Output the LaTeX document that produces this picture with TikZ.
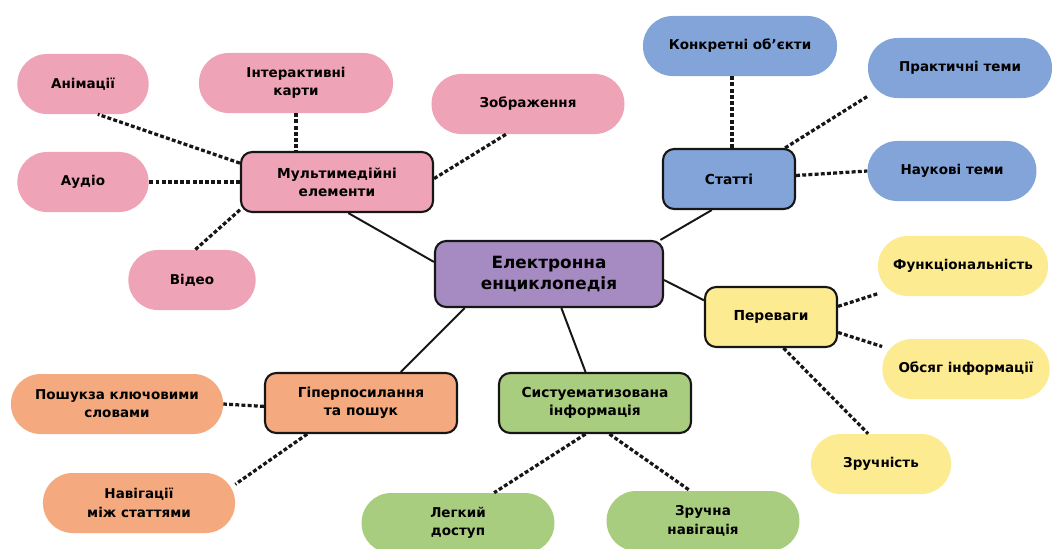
\documentclass[tikz,border=0pt]{standalone}
\usepackage{fontspec}
\setmainfont{DejaVu Sans}
\usepackage{tikz}
\usetikzlibrary{positioning}
\definecolor{inkColor}{RGB}{22, 22, 22}
\definecolor{rootFill}{RGB}{165, 139, 193}
\definecolor{mediaFill}{RGB}{239, 163, 182}
\definecolor{articleFill}{RGB}{130, 164, 216}
\definecolor{benefitFill}{RGB}{253, 235, 145}
\definecolor{searchFill}{RGB}{244, 170, 126}
\definecolor{orderFill}{RGB}{169, 205, 127}
\tikzset{
    root_box/.style={
        draw=inkColor,
        line width=1.5pt,
        rounded corners=8pt,
        fill=rootFill,
        align=center,
        font=\bfseries\fontsize{12}{15}\selectfont,
        minimum width=5.7cm,
        minimum height=1.65cm
    },
    topic_box/.style={
        draw=inkColor,
        line width=1.5pt,
        rounded corners=8pt,
        align=center,
        font=\bfseries\fontsize{9.8}{13}\selectfont,
        minimum height=1.5cm
    },
    leaf_pill/.style={
        rounded corners=0.74cm,
        align=center,
        font=\bfseries\fontsize{9.6}{13}\selectfont,
        minimum height=1.5cm
    },
    solid_link/.style={
        draw=inkColor,
        line width=1.4pt
    },
    dot_link/.style={
        draw=inkColor,
        line width=2.3pt,
        dash pattern=on 2.8pt off 1.6pt
    }
}
\begin{document}
\begin{tikzpicture}[x=0.025cm, y=-0.025cm]
    \useasboundingbox (0,0) rectangle (1052,548);

    % centre and topics
    \node[root_box] (encyc) at (549,274) {Електронна\\енциклопедія};
    \node[topic_box, fill=mediaFill, minimum width=4.8cm] (media) at (337,182) {Мультимедійні\\елементи};
    \node[topic_box, fill=articleFill, minimum width=3.3cm] (articles) at (729,179) {Статті};
    \node[topic_box, fill=benefitFill, minimum width=3.3cm] (benefits) at (771,317) {Переваги};
    \node[topic_box, fill=searchFill, minimum width=4.8cm] (hyper) at (361,403) {Гіперпосилання\\та пошук};
    \node[topic_box, fill=orderFill, minimum width=4.8cm] (ordered) at (595,403) {Систуематизована\\інформація};

    % media leaves
    \node[leaf_pill, fill=mediaFill, minimum width=3.28cm] (anim) at (83,84) {Анімації};
    \node[leaf_pill, fill=mediaFill, minimum width=4.85cm] (maps) at (296,83) {Інтерактивні\\карти};
    \node[leaf_pill, fill=mediaFill, minimum width=4.82cm] (images) at (528,104) {Зображення};
    \node[leaf_pill, fill=mediaFill, minimum width=3.28cm] (audio) at (83,182) {Аудіо};
    \node[leaf_pill, fill=mediaFill, minimum width=3.18cm] (video) at (192,280) {Відео};

    % article leaves
    \node[leaf_pill, fill=articleFill, minimum width=4.85cm] (objects) at (740,46) {Конкретні об’єкти};
    \node[leaf_pill, fill=articleFill, minimum width=4.6cm] (practice) at (960,68) {Практичні теми};
    \node[leaf_pill, fill=articleFill, minimum width=4.22cm] (science) at (952,171) {Наукові теми};

    % benefit leaves
    \node[leaf_pill, fill=benefitFill, minimum width=4.25cm] (funcs) at (963,266) {Функціональність};
    \node[leaf_pill, fill=benefitFill, minimum width=4.18cm] (volume) at (966,369) {Обсяг інформації};
    \node[leaf_pill, fill=benefitFill, minimum width=3.5cm] (comfort) at (881,464) {Зручність};

    % search leaves
    \node[leaf_pill, fill=searchFill, minimum width=5.3cm] (keywords) at (117,404) {Пошукза ключовими\\словами};
    \node[leaf_pill, fill=searchFill, minimum width=4.8cm] (navig) at (139,503) {Навігації\\між статтями};

    % order leaves
    \node[leaf_pill, fill=orderFill, minimum width=4.82cm] (access) at (458,523) {Легкий\\доступ};
    \node[leaf_pill, fill=orderFill, minimum width=4.82cm] (easynav) at (703,521) {Зручна\\навігація};

    % solid links
    \draw[solid_link] (encyc.174) -- (media.-70);
    \draw[solid_link] (encyc.17) -- (articles.-119);
    \draw[solid_link] (encyc.-3) -- (benefits.166);
    \draw[solid_link] (encyc.-158) -- (hyper.38);
    \draw[solid_link] (encyc.-70) -- (ordered.107);

    % dotted links
    \draw[dot_link] (media.169) -- (anim.-64);
    \draw[dot_link] (maps.south) -- (maps.south |- media.north);
    \draw[dot_link] (media.2) -- (images.-126);
    \draw[dot_link] (media.west) -- (audio.east);
    \draw[dot_link] (media.-164) -- (video.84);
    \draw[dot_link] (objects.-105) -- (objects.-105 |- articles.north);
    \draw[dot_link] (articles.29) -- (practice.-163);
    \draw[dot_link] (articles.3) -- (science.west);
    \draw[dot_link] (benefits.9) -- (funcs.-162);
    \draw[dot_link] (benefits.-13) -- (volume.165);
    \draw[dot_link] (benefits.-68) -- (comfort.113);
    \draw[dot_link] (hyper.-178) -- (keywords.east);
    \draw[dot_link] (hyper.-150) -- (navig.11);
    \draw[dot_link] (ordered.-107) -- (access.40);
    \draw[dot_link] (ordered.-65) -- (easynav.113);
\end{tikzpicture}
\end{document}
